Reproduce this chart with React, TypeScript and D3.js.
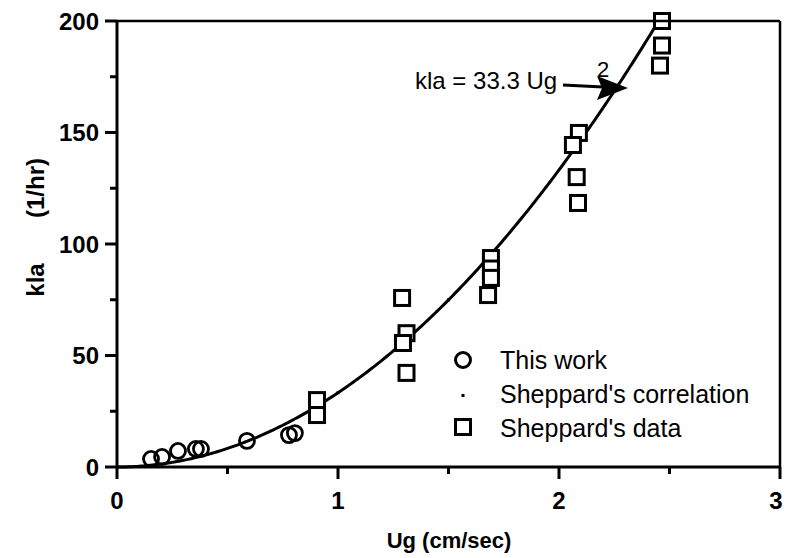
import React from "react";
import * as d3 from "d3";

const thisWorkUg = [0.154, 0.204, 0.276, 0.357, 0.38, 0.588, 0.778, 0.805];
const thisWorkKla = [3.6, 4.5, 7.2, 8.1, 8.1, 11.7, 14.3, 15.2];

const sheppardUg = [0.905, 0.905, 1.29, 1.31, 1.294, 1.31, 1.692, 1.692, 1.692, 1.679, 2.09, 2.063, 2.08, 2.086, 2.466, 2.466, 2.457];
const sheppardKla = [30, 23.3, 75.8, 60, 55.6, 42.2, 93.7, 89, 84.8, 77.1, 149.8, 144.4, 130, 118.4, 200, 189, 180];

const corrUg = [1, 1.5, 2.45];
const coeff = 33.3;

const xTicksMajor = [0, 1, 2, 3];
const xTicksMinor = [0.5, 1.5, 2.5];
const yTicksMajor = [0, 50, 100, 150, 200];
const yTicksMinor = [25, 75, 125, 175];

const legendLabels = ["This work", "Sheppard's correlation", "Sheppard's data"];

export default function App() {
  const W = 785, H = 558;
  const x = d3.scaleLinear().domain([0, 3]).range([117, 780]);
  const y = d3.scaleLinear().domain([0, 200]).range([467, 21]);
  const curveXs = d3.range(0, 2.4501, 0.01);
  const line = d3.line<number>().x(d => x(d)).y(d => y(coeff * d * d));
  const font = "'Liberation Sans', Arial, Helvetica, sans-serif";
  const sq = 15;
  return (
    <svg width={W} height={H} style={{ position: "absolute", left: 0, top: 0, background: "#fff" }}>
      <rect x={0} y={0} width={W} height={H} fill="#fff" />
      <path d={line(curveXs) || ""} fill="none" stroke="#000" strokeWidth={3} />
      {corrUg.map((u, i) => (
        <rect key={"c" + i} x={x(u) - 1.5} y={y(coeff * u * u) - 1.5} width={3} height={3} fill="#000" />
      ))}
      {sheppardUg.map((u, i) => (
        <rect key={"s" + i} x={x(u) - sq / 2} y={y(sheppardKla[i]) - sq / 2} width={sq} height={sq}
          fill="#fff" stroke="#000" strokeWidth={3} />
      ))}
      {thisWorkUg.map((u, i) => (
        <circle key={"o" + i} cx={x(u)} cy={y(thisWorkKla[i])} r={7.5} fill="none" stroke="#000" strokeWidth={2.8} />
      ))}
      <line x1={x(0)} x2={x(3)} y1={y(200)} y2={y(200)} stroke="#000" strokeWidth={2.5} />
      <line x1={x(3)} x2={x(3)} y1={y(200)} y2={y(0)} stroke="#000" strokeWidth={2.5} />
      <line x1={x(0)} x2={x(3)} y1={y(0)} y2={y(0)} stroke="#000" strokeWidth={3} />
      <line x1={x(0)} x2={x(0)} y1={y(200)} y2={y(0)} stroke="#000" strokeWidth={3} />
      {xTicksMajor.map(t => (
        <g key={"xt" + t}>
          <line x1={x(t)} x2={x(t)} y1={y(0)} y2={y(0) + 12} stroke="#000" strokeWidth={3} />
          <text x={Math.min(x(t), W - 9)} y={509} textAnchor="middle" fontFamily={font} fontWeight="bold" fontSize={24}>{t}</text>
        </g>
      ))}
      {xTicksMinor.map(t => (
        <line key={"xm" + t} x1={x(t)} x2={x(t)} y1={y(0)} y2={y(0) + 7} stroke="#000" strokeWidth={3} />
      ))}
      {yTicksMajor.map(t => (
        <g key={"yt" + t}>
          <line x1={x(0) - 12} x2={x(0)} y1={y(t)} y2={y(t)} stroke="#000" strokeWidth={3} />
          <text x={99} y={y(t) + 8.5} textAnchor="end" fontFamily={font} fontWeight="bold" fontSize={24}>{t}</text>
        </g>
      ))}
      {yTicksMinor.map(t => (
        <line key={"ym" + t} x1={x(0) - 7} x2={x(0)} y1={y(t)} y2={y(t)} stroke="#000" strokeWidth={3} />
      ))}
      <text x={449} y={548} textAnchor="middle" fontFamily={font} fontWeight="bold" fontSize={22}>Ug (cm/sec)</text>
      <text transform="translate(44,280) rotate(-90)" textAnchor="middle" fontFamily={font} fontWeight="bold" fontSize={24}>kla</text>
      <text transform="translate(44,188) rotate(-90)" textAnchor="middle" fontFamily={font} fontWeight="bold" fontSize={24}>(1/hr)</text>
      <text x={415} y={89} fontFamily={font} fontSize={24}>kla = 33.3 Ug</text>
      <text x={597} y={77} fontFamily={font} fontSize={22}>2</text>
      <path d="M563,85 L603,87" stroke="#000" strokeWidth={3.2} fill="none" />
      <path d="M628,88 L597,76 L602,88 L597,100 Z" fill="#000" />
      <circle cx={463} cy={360} r={7.5} fill="none" stroke="#000" strokeWidth={3} />
      <rect x={461.5} y={394} width={3} height={3} fill="#000" />
      <rect x={455.5} y={419.5} width={15} height={15} fill="#fff" stroke="#000" strokeWidth={3} />
      {legendLabels.map((l, i) => (
        <text key={l} x={500} y={369 + i * 34} fontFamily={font} fontSize={25}>{l}</text>
      ))}
    </svg>
  );
}
